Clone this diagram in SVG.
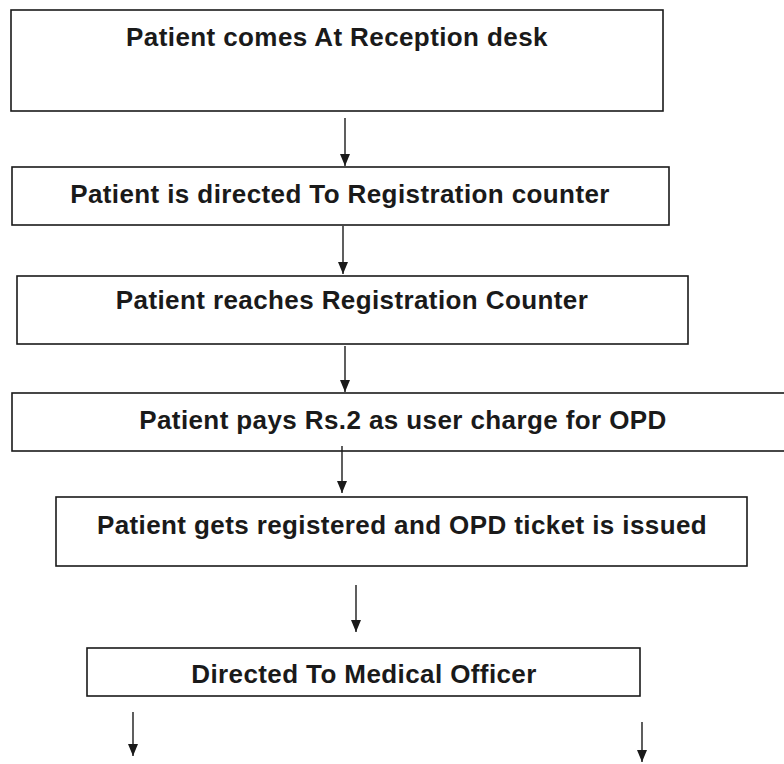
<svg xmlns="http://www.w3.org/2000/svg" width="784" height="764" viewBox="0 0 784 764">
<style>
.box{fill:#fff;stroke:#1a1a1a;stroke-width:1.6}
.t{font-family:"Liberation Sans",Arial,sans-serif;font-weight:bold;font-size:26px;letter-spacing:0.4px;fill:#1a1a1a;text-anchor:middle}
.c{stroke:#1a1a1a;stroke-width:1.4;fill:none;marker-end:url(#ah)}
</style>
<defs>
<marker id="ah" viewBox="0 0 12 10" refX="12" refY="5" markerWidth="12" markerHeight="10" markerUnits="userSpaceOnUse" orient="auto">
<path d="M0,0 L12,5 L0,10 Z" fill="#1a1a1a"/>
</marker>
</defs>
<rect width="784" height="764" fill="#fff"/>
<g id="n1"><rect class="box" x="11" y="10" width="652" height="101"/><text class="t" x="337" y="46">Patient comes At Reception desk</text></g>
<g id="n2"><rect class="box" x="12" y="167" width="657" height="58"/><text class="t" x="340" y="203">Patient is directed To Registration counter</text></g>
<g id="n3"><rect class="box" x="17" y="276" width="671" height="68"/><text class="t" x="352" y="309">Patient reaches Registration Counter</text></g>
<g id="n4"><rect class="box" x="12" y="393" width="790" height="58"/><text class="t" x="403" y="429">Patient pays Rs.2 as user charge for OPD</text></g>
<g id="n5"><rect class="box" x="56" y="497" width="691" height="69"/><text class="t" x="402" y="534">Patient gets registered and OPD ticket is issued</text></g>
<g id="n6"><rect class="box" x="87" y="648" width="553" height="48"/><text class="t" x="364" y="683">Directed To Medical Officer</text></g>
<g id="connectors">
<line class="c" x1="345" y1="118" x2="345" y2="166"/>
<line class="c" x1="343" y1="226" x2="343" y2="274"/>
<line class="c" x1="345" y1="346" x2="345" y2="392"/>
<line class="c" x1="342" y1="446" x2="342" y2="493"/>
<line class="c" x1="356" y1="585" x2="356" y2="632"/>
<line class="c" x1="133" y1="712" x2="133" y2="756"/>
<line class="c" x1="642" y1="722" x2="642" y2="762"/>
</g>
</svg>
